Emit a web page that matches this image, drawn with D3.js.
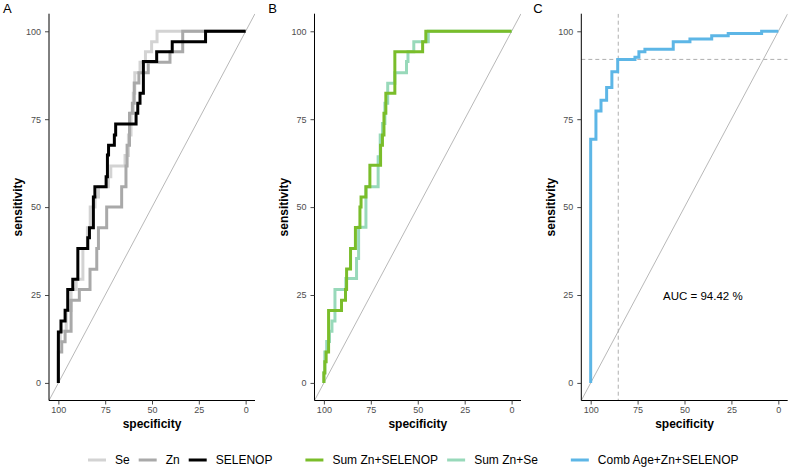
<!DOCTYPE html>
<html><head><meta charset="utf-8">
<script src="https://cdn.jsdelivr.net/npm/d3@7"></script>
<style>
html,body{margin:0;padding:0;background:#fff;}
svg{display:block;font-family:"Liberation Sans",Arial,Helvetica,sans-serif;}
</style></head>
<body>
<svg id="chart" width="789" height="468"></svg>
<script>
// ---------- data ----------
const specTicks = [100, 75, 50, 25, 0];
const sensTicks = [0, 25, 50, 75, 100];
const panelLabels = ["A", "B", "C"];
const xTitle = "specificity";
const yTitle = "sensitivity";

// ROC step points [specificity, sensitivity]; vertical move then horizontal move
const seROC = [[100,0],[99,11.7],[95.8,14.7],[93.2,20.6],[90.5,26.6],[86.9,29.5],[84.5,38.2],[83,44.1],[80.4,50],[78.6,52.9],[73.3,55.8],[72,58.6],[64.4,61.7],[62.6,64.7],[61.2,70.5],[60,76.7],[59.2,82.4],[56.4,88.2],[53.5,91.2],[50.2,94.2],[47.3,97],[44,100],[0,100]];
const znROC = [[100,0],[98.2,8.8],[96.4,11.7],[93.2,14.7],[88.8,23.5],[83.1,26.6],[79.5,32.3],[78.6,38.2],[74.2,44.1],[66.2,50],[63.9,55.8],[63.3,61.7],[62,67.6],[60.5,76.7],[59.5,79.5],[57,85.3],[52,88.2],[40.4,91.2],[33.6,94.2],[0,100]];
const selenopROC = [[100,0],[98.6,14.5],[96.4,17.6],[95,20.7],[92.3,26.6],[89.6,29.5],[84.3,38.2],[83.4,41.3],[81.3,44.1],[80.5,52.9],[74.5,55.8],[73.8,58.6],[73.2,64.8],[70.1,67.6],[69.4,70.5],[58.5,73.6],[57.6,76.7],[56.4,79.5],[54.6,82.4],[47.5,91.4],[39.2,94.2],[21.4,97],[0,100]];
const sumZnSelenopROC = [[100,0],[99.5,2.8],[98.8,6],[97.5,8.8],[90.6,20.6],[88.5,23.5],[87.9,26.6],[85.8,32.4],[83.2,38.2],[80.8,44.2],[80.2,50],[77.6,52.9],[75.5,55.8],[69.8,61.9],[68.8,67.6],[68,70.5],[67,76.7],[62.2,82.4],[47.4,94.2],[45.7,97],[0,100]];
const sumZnSeROC = [[100,0],[99.5,2.9],[98.5,8.8],[97,11.8],[95.7,14.7],[94.1,17.6],[88.3,26.6],[82.6,29.7],[81.5,35.4],[77.6,44.3],[71.1,55.8],[70,64.3],[68.8,70.5],[67.5,73.8],[66,79.5],[62.2,85.2],[56,88.2],[55.2,91.4],[52.1,94.2],[44.4,97],[0,100]];
const combROC = [[100,0],[97.2,69.3],[94.5,77.3],[91.5,80.4],[88.7,84],[85.6,88.5],[76.4,92],[74.3,92.6],[71.1,94.2],[56,94.9],[47.1,97],[35.5,97.8],[26.7,98.7],[8.9,99.4],[0,100],[0,100]];

const cutoffSpec = 85.3;
const cutoffSens = 92.0;
const aucText = "AUC = 94.42 %";
const aucPos = [40.2, 24.8];

const legendGroups = [["Se","Zn","SELENOP"],["Sum Zn+SELENOP","Sum Zn+Se"],["Comb Age+Zn+SELENOP"]];

// ---------- styles ----------
const colors = {
  "Se":"#d3d3d3","Zn":"#a9a9a9","SELENOP":"#000000",
  "Sum Zn+SELENOP":"#7abd2a","Sum Zn+Se":"#98d9ba",
  "Comb Age+Zn+SELENOP":"#5db6e6"
};

const panelSeries = [
  [["Se",seROC],["Zn",znROC],["SELENOP",selenopROC]],
  [["Sum Zn+Se",sumZnSeROC],["Sum Zn+SELENOP",sumZnSelenopROC]],
  [["Comb Age+Zn+SELENOP",combROC]]
];

const panelX = [[49,255],[314.5,521],[581.3,787.7]];
const yTop = 13.7, yBot = 400.5;

const svg = d3.select("#chart");
const defs = svg.append("defs");

panelX.forEach((px, i) => {
  const x = d3.scaleLinear().domain([105,-5]).range(px);
  const y = d3.scaleLinear().domain([-5,105]).range([yBot,yTop]);
  const g = svg.append("g");
  const clipId = "clip"+i;
  defs.append("clipPath").attr("id",clipId).append("rect")
    .attr("x",px[0]).attr("y",yTop).attr("width",px[1]-px[0]).attr("height",yBot-yTop);
  const plot = g.append("g").attr("clip-path",`url(#${clipId})`);

  // diagonal
  plot.append("line")
    .attr("x1",x(105)).attr("y1",y(-5)).attr("x2",x(-5)).attr("y2",y(105))
    .attr("stroke","#a6a6a6").attr("stroke-width",0.8);

  if (i === 2) {
    plot.append("line").attr("x1",x(cutoffSpec)).attr("x2",x(cutoffSpec))
      .attr("y1",yTop).attr("y2",yBot)
      .attr("stroke","#a6a6a6").attr("stroke-width",0.9).attr("stroke-dasharray","4,3");
    plot.append("line").attr("x1",px[0]).attr("x2",px[1])
      .attr("y1",y(cutoffSens)).attr("y2",y(cutoffSens))
      .attr("stroke","#a6a6a6").attr("stroke-width",0.9).attr("stroke-dasharray","4,3");
  }

  const line = d3.line().x(d=>x(d[0])).y(d=>y(d[1])).curve(d3.curveStepBefore);
  panelSeries[i].forEach(([name,data]) => {
    plot.append("path").attr("d",line(data)).attr("fill","none")
      .attr("stroke",colors[name]).attr("stroke-width",3).attr("stroke-linejoin","miter");
  });

  if (i === 2) {
    g.append("text").attr("x",x(aucPos[0])).attr("y",y(aucPos[1])).attr("dy","0.35em")
      .attr("text-anchor","middle").attr("font-size",11.5).attr("fill","#000").text(aucText);
  }

  // axes
  const ax = g.append("g").attr("transform",`translate(0,${yBot})`)
    .call(d3.axisBottom(x).tickValues(specTicks).tickSize(4).tickSizeOuter(0).tickPadding(2));
  const ay = g.append("g").attr("transform",`translate(${px[0]},0)`)
    .call(d3.axisLeft(y).tickValues(sensTicks).tickSize(4).tickSizeOuter(0).tickPadding(4));
  [ax,ay].forEach(a => {
    a.select(".domain").attr("stroke","#000").attr("stroke-width",1);
    a.selectAll(".tick line").attr("stroke","#333").attr("stroke-width",0.9);
    a.selectAll(".tick text").attr("fill","#4d4d4d").attr("font-size",9)
      .attr("font-family","Liberation Sans, Arial, sans-serif");
  });
  ax.select(".domain").attr("d",`M${px[0]},0H${px[1]}`);
  ay.select(".domain").attr("d",`M0,${yTop}V${yBot}`);

  // titles
  g.append("text").attr("x",(px[0]+px[1])/2).attr("y",424).attr("dy","0.35em")
    .attr("text-anchor","middle").attr("font-weight","bold").attr("font-size",12).text(xTitle);
  g.append("text").attr("transform",`translate(${px[0]-31},${(yTop+yBot)/2}) rotate(-90)`)
    .attr("dy","0.35em").attr("text-anchor","middle").attr("font-weight","bold")
    .attr("font-size",12).text(yTitle);
  g.append("text").attr("x",[3,268.3,533.3][i]).attr("y",12.7)
    .attr("font-size",13).attr("fill","#000").text(panelLabels[i]);
});

// legend
const leg = svg.append("g");
let cx = 88;
const ly = 460;
legendGroups.forEach((grp, gi) => {
  grp.forEach((name, ni) => {
    leg.append("line").attr("x1",cx).attr("x2",cx+18).attr("y1",ly).attr("y2",ly)
      .attr("stroke",colors[name]).attr("stroke-width",3);
    cx += 18 + 9;
    const t = leg.append("text").attr("x",cx).attr("y",ly).attr("dy","0.35em")
      .attr("font-size",12).attr("fill","#000").text(name);
    cx += t.node().getComputedTextLength();
    cx += (ni < grp.length-1) ? 9 : 33;
  });
});
</script>
</body></html>
